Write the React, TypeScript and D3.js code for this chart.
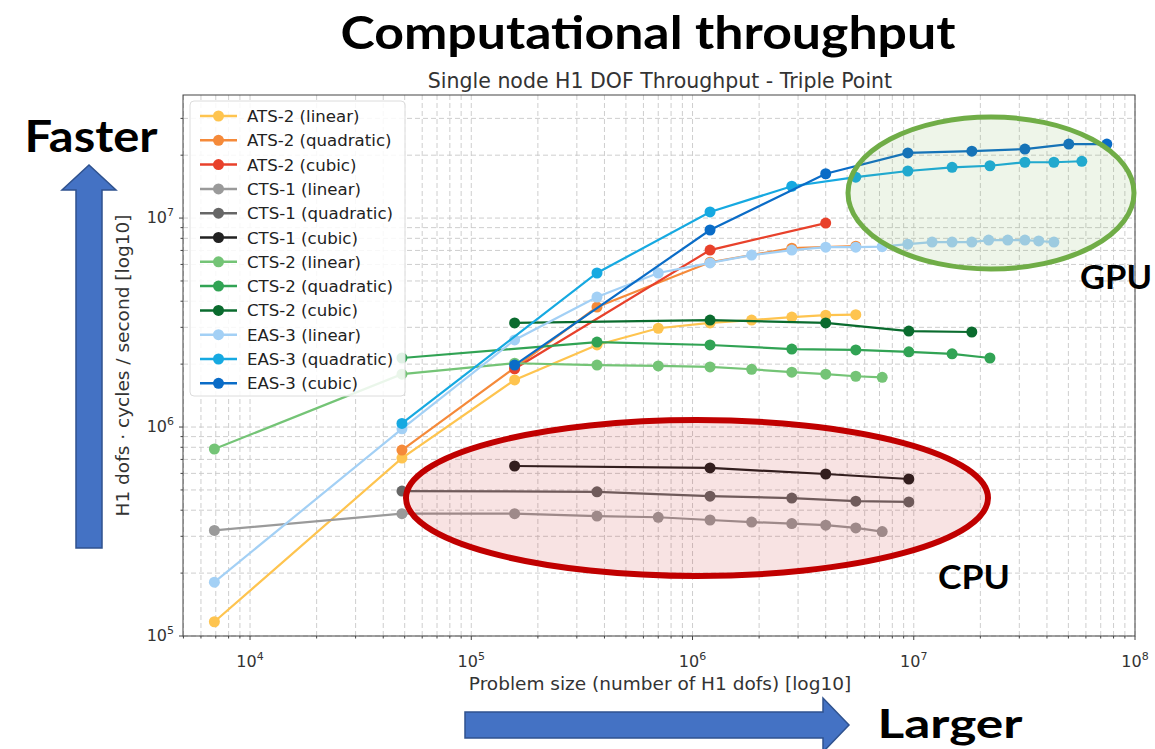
import React from 'react';
import * as d3 from 'd3';

// problem sizes (H1 dofs) and throughputs
const ats2LinX = [6.9e3, 4.86e4, 1.57e5, 3.7e5, 7.0e5, 1.2e6, 1.85e6, 2.81e6, 4.0e6, 5.47e6];
const ats2LinY = [1.17e5, 7.1e5, 1.68e6, 2.47e6, 2.97e6, 3.15e6, 3.25e6, 3.36e6, 3.43e6, 3.45e6];
const ats2QuadX = [4.86e4, 1.57e5, 3.7e5, 1.2e6, 2.81e6, 5.47e6];
const ats2QuadY = [7.76e5, 1.92e6, 3.75e6, 6.15e6, 7.18e6, 7.34e6];
const ats2CubX = [1.57e5, 1.2e6, 4.0e6];
const ats2CubY = [1.9e6, 7.03e6, 9.46e6];

const cts1LinX = [6.9e3, 4.86e4, 1.57e5, 3.7e5, 7.0e5, 1.2e6, 1.85e6, 2.81e6, 4.0e6, 5.47e6, 7.2e6];
const cts1LinY = [3.2e5, 3.85e5, 3.85e5, 3.75e5, 3.7e5, 3.59e5, 3.51e5, 3.45e5, 3.39e5, 3.29e5, 3.16e5];
const cts1QuadX = [4.86e4, 3.7e5, 1.2e6, 2.81e6, 5.47e6, 9.5e6];
const cts1QuadY = [4.94e5, 4.9e5, 4.67e5, 4.57e5, 4.42e5, 4.38e5];
const cts1CubX = [1.57e5, 1.2e6, 4.0e6, 9.5e6];
const cts1CubY = [6.51e5, 6.37e5, 5.96e5, 5.64e5];

const cts2LinX = [6.9e3, 4.86e4, 1.57e5, 3.7e5, 7.0e5, 1.2e6, 1.85e6, 2.81e6, 4.0e6, 5.47e6, 7.2e6];
const cts2LinY = [7.85e5, 1.79e6, 2.02e6, 1.98e6, 1.96e6, 1.94e6, 1.89e6, 1.83e6, 1.79e6, 1.75e6, 1.73e6];
const cts2QuadX = [4.86e4, 3.7e5, 1.2e6, 2.81e6, 5.47e6, 9.5e6, 1.49e7, 2.21e7];
const cts2QuadY = [2.14e6, 2.55e6, 2.47e6, 2.36e6, 2.34e6, 2.29e6, 2.24e6, 2.14e6];
const cts2CubX = [1.57e5, 1.2e6, 4.0e6, 9.5e6, 1.83e7];
const cts2CubY = [3.15e6, 3.25e6, 3.15e6, 2.88e6, 2.85e6];

const eas3LinX = [6.9e3, 4.86e4, 1.57e5, 3.7e5, 7.0e5, 1.2e6, 1.85e6, 2.81e6, 4.0e6, 5.47e6, 7.2e6,
  9.4e6, 1.21e7, 1.49e7, 1.83e7, 2.18e7, 2.66e7, 3.18e7, 3.67e7, 4.3e7];
const eas3LinY = [1.81e5, 9.8e5, 2.61e6, 4.19e6, 5.46e6, 6.1e6, 6.65e6, 7.03e6, 7.26e6, 7.26e6, 7.3e6,
  7.5e6, 7.68e6, 7.68e6, 7.68e6, 7.85e6, 7.85e6, 7.85e6, 7.77e6, 7.68e6];
const eas3QuadX = [4.86e4, 3.7e5, 1.2e6, 2.81e6, 5.47e6, 9.4e6, 1.49e7, 2.21e7, 3.18e7, 4.3e7, 5.75e7];
const eas3QuadY = [1.04e6, 5.46e6, 1.07e7, 1.42e7, 1.57e7, 1.68e7, 1.75e7, 1.78e7, 1.85e7, 1.85e7, 1.87e7];
const eas3CubX = [1.57e5, 1.2e6, 4.0e6, 9.4e6, 1.83e7, 3.18e7, 5.02e7, 7.46e7];
const eas3CubY = [1.98e6, 8.77e6, 1.63e7, 2.05e7, 2.09e7, 2.14e7, 2.26e7, 2.26e7];

const seriesNames = [
  'ATS-2 (linear)', 'ATS-2 (quadratic)', 'ATS-2 (cubic)',
  'CTS-1 (linear)', 'CTS-1 (quadratic)', 'CTS-1 (cubic)',
  'CTS-2 (linear)', 'CTS-2 (quadratic)', 'CTS-2 (cubic)',
  'EAS-3 (linear)', 'EAS-3 (quadratic)', 'EAS-3 (cubic)',
];
const seriesColors = [
  '#fec44f', '#f58a3a', '#e8412b',
  '#9a9a9a', '#666666', '#222222',
  '#74c476', '#31a354', '#0a6b2e',
  '#a3d0f5', '#16a9e1', '#0a6cc7',
];
const seriesXs = [ats2LinX, ats2QuadX, ats2CubX, cts1LinX, cts1QuadX, cts1CubX,
  cts2LinX, cts2QuadX, cts2CubX, eas3LinX, eas3QuadX, eas3CubX];
const seriesYs = [ats2LinY, ats2QuadY, ats2CubY, cts1LinY, cts1QuadY, cts1CubY,
  cts2LinY, cts2QuadY, cts2CubY, eas3LinY, eas3QuadY, eas3CubY];

const xDecades = [4, 5, 6, 7, 8];
const yDecades = [5, 6, 7];

const W = 1155, H = 749;
const plot = { left: 183, right: 1135, top: 95, bottom: 636 };
const FONT = 'DejaVu Sans, sans-serif';
const HEAD = 'Lato, "Open Sans", sans-serif';

export default function App() {
  const x = d3.scaleLog().domain([10 ** 3.697, 1e8]).range([plot.left, plot.right]);
  const y = d3.scaleLog().domain([1e5, 10 ** 7.589]).range([plot.bottom, plot.top]);

  const [x0, x1] = x.domain();
  const [y0, y1] = y.domain();
  const xMinor: number[] = [];
  for (let e = 3; e <= 8; e++) for (let m = 1; m <= 9; m++) {
    const v = m * 10 ** e;
    if (v >= x0 && v <= x1) xMinor.push(v);
  }
  const yMinor: number[] = [];
  for (let e = 5; e <= 7; e++) for (let m = 1; m <= 9; m++) {
    const v = m * 10 ** e;
    if (v >= y0 && v <= y1) yMinor.push(v);
  }

  const series = seriesNames.map((name, i) => ({
    name, color: seriesColors[i],
    pts: seriesXs[i].map((d, j) => [d, seriesYs[i][j]] as [number, number]),
  }));
  const line = d3.line<[number, number]>().x(d => x(d[0])).y(d => y(d[1]));

  const legY0 = 116, legDy = 24.3;

  return (
    <svg width={W} height={H} style={{ position: 'absolute', left: 0, top: 0, background: '#fff' }}>
      {/* grid */}
      <g stroke="#c8c8c8" strokeWidth={0.9} strokeDasharray="5,3">
        {xMinor.map(v => <line key={'gx' + v} x1={x(v)} x2={x(v)} y1={plot.top} y2={plot.bottom} />)}
        {yMinor.map(v => <line key={'gy' + v} y1={y(v)} y2={y(v)} x1={plot.left} x2={plot.right} />)}
      </g>

      {/* series */}
      {series.map(s => (
        <g key={s.name}>
          <path d={line(s.pts) || ''} fill="none" stroke={s.color} strokeWidth={2.2} />
          {s.pts.map((p, j) => <circle key={j} cx={x(p[0])} cy={y(p[1])} r={5.5} fill={s.color} />)}
        </g>
      ))}

      {/* spines + ticks */}
      <rect x={plot.left} y={plot.top} width={plot.right - plot.left} height={plot.bottom - plot.top}
        fill="none" stroke="#444" strokeWidth={1} />
      <g stroke="#444">
        {xMinor.map(v => <line key={'tx' + v} x1={x(v)} x2={x(v)} y1={plot.bottom}
          y2={plot.bottom + (Number.isInteger(Math.log10(v)) ? 4 : 2.5)} />)}
        {yMinor.map(v => <line key={'ty' + v} y1={y(v)} y2={y(v)} x1={plot.left}
          x2={plot.left - (Number.isInteger(Math.log10(v)) ? 4 : 2.5)} />)}
      </g>
      <g fontFamily={FONT} fontSize={16} fill="#333">
        {xDecades.map(e => (
          <text key={'lx' + e} x={x(10 ** e)} y={667} textAnchor="middle">
            10<tspan fontSize={11} dy={-7}>{e}</tspan>
          </text>
        ))}
        {yDecades.map(e => (
          <text key={'ly' + e} x={plot.left - 9} y={y(10 ** e) + 5} textAnchor="end">
            10<tspan fontSize={11} dy={-7}>{e}</tspan>
          </text>
        ))}
      </g>
      <text x={660} y={690} textAnchor="middle" fontFamily={FONT} fontSize={18.5} fill="#333">
        Problem size (number of H1 dofs) [log10]
      </text>
      <text transform={`translate(129,${(plot.top + plot.bottom) / 2}) rotate(-90)`} textAnchor="middle"
        fontFamily={FONT} fontSize={18.5} fill="#333">H1 dofs · cycles / second [log10]</text>
      <text x={660} y={88} textAnchor="middle" fontFamily={FONT} fontSize={20.5} fill="#333">
        Single node H1 DOF Throughput - Triple Point
      </text>

      {/* legend */}
      <rect x={190} y={101} width={215} height={295} rx={4} fill="#fff" fillOpacity={0.85} stroke="#dcdcdc" />
      {series.map((s, i) => (
        <g key={'leg' + s.name} transform={`translate(0,${legY0 + i * legDy})`}>
          <line x1={200} x2={237} stroke={s.color} strokeWidth={2.5} />
          <circle cx={218.5} r={5.5} fill={s.color} />
          <text x={247} y={6} fontFamily={FONT} fontSize={16.6} fill="#222">{s.name}</text>
        </g>
      ))}

      {/* annotations */}
      <ellipse cx={991} cy={193} rx={143} ry={76} fill="#70ad47" fillOpacity={0.12} stroke="#70ad47" strokeWidth={5} />
      <ellipse cx={697} cy={498} rx={291} ry={78} fill="#c00000" fillOpacity={0.11} stroke="#c00000" strokeWidth={6} />

      <polygon points="76,548 102,548 102,190 116,190 89,165 62,190 76,190"
        fill="#4472c4" stroke="#2f528f" strokeWidth={1.5} />
      <polygon points="465,712 823,712 823,698 849,725 823,752 823,738 465,738"
        fill="#4472c4" stroke="#2f528f" strokeWidth={1.5} />

      <g fontFamily={HEAD} fontWeight={700} fill="#000">
        <text x={648} y={49} textAnchor="middle" fontSize={46} textLength={615} lengthAdjust="spacingAndGlyphs">
          Computational throughput</text>
        <text x={91} y={152} textAnchor="middle" fontSize={44} textLength={133} lengthAdjust="spacingAndGlyphs">Faster</text>
        <text x={950} y={738} textAnchor="middle" fontSize={41} textLength={145} lengthAdjust="spacingAndGlyphs">Larger</text>
        <text x={1116} y={289} textAnchor="middle" fontSize={33} textLength={72} lengthAdjust="spacingAndGlyphs">GPU</text>
        <text x={974} y={589} textAnchor="middle" fontSize={33} textLength={72} lengthAdjust="spacingAndGlyphs">CPU</text>
      </g>
    </svg>
  );
}
